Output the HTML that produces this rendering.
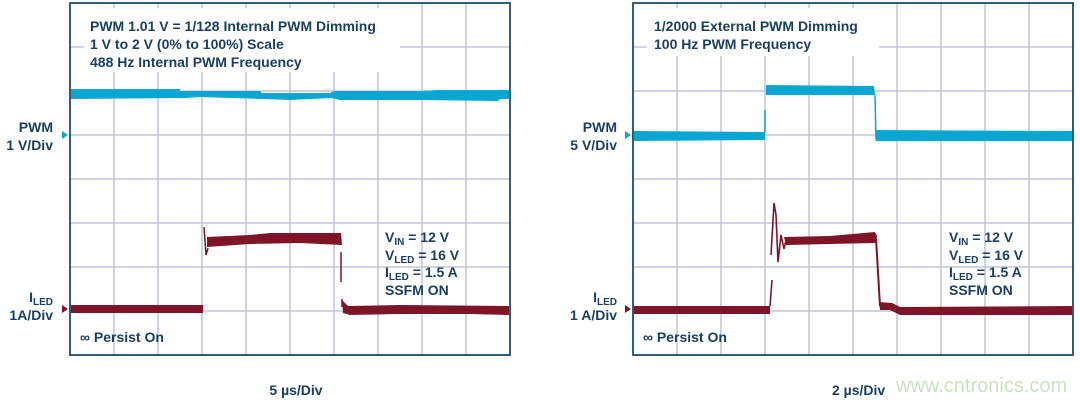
<!DOCTYPE html>
<html><head><meta charset="utf-8"><style>
html,body{margin:0;padding:0;background:#fff}
svg{display:block}
text{font-family:"Liberation Sans",sans-serif;font-weight:bold;fill:#1b3f63}
</style></head><body>
<svg width="1080" height="400" viewBox="0 0 1080 400" xmlns="http://www.w3.org/2000/svg">
<defs>
<g id="grid">
 <g stroke="#c3c6d8" stroke-width="1.6">
  <line x1="44" y1="0" x2="44" y2="352"/><line x1="88" y1="0" x2="88" y2="352"/><line x1="132" y1="0" x2="132" y2="352"/><line x1="176" y1="0" x2="176" y2="352"/><line x1="220" y1="0" x2="220" y2="352"/><line x1="264" y1="0" x2="264" y2="352"/><line x1="308" y1="0" x2="308" y2="352"/><line x1="352" y1="0" x2="352" y2="352"/><line x1="396" y1="0" x2="396" y2="352"/>
  <line x1="0" y1="44" x2="440" y2="44"/><line x1="0" y1="88" x2="440" y2="88"/><line x1="0" y1="132" x2="440" y2="132"/><line x1="0" y1="176" x2="440" y2="176"/><line x1="0" y1="220" x2="440" y2="220"/><line x1="0" y1="264" x2="440" y2="264"/><line x1="0" y1="308" x2="440" y2="308"/>
 </g>
</g>
</defs>

<!-- LEFT SCOPE -->
<g transform="translate(70,3)"><use href="#grid"/></g>
<rect x="84" y="8" width="316" height="64" fill="#fff"/>
<rect x="70" y="3" width="440" height="352" fill="none" stroke="#1e4a6e" stroke-width="1.8"/>
<text x="90" y="31" font-size="14">PWM 1.01 V = 1/128 Internal PWM Dimming</text>
<text x="90" y="49" font-size="14">1 V to 2 V (0% to 100%) Scale</text>
<text x="90" y="67" font-size="14">488 Hz Internal PWM Frequency</text>
<!-- PWM trace -->
<path d="M71 89 L180 89 L180 91 L260 91 L262 93 L330 93 L334 91 L420 91 L440 90 L509 90 L509 99 L500 99 L498 101 L420 100 L340 100 L332 98 L310 99 L290 100 L262 99 L200 97 L185 98 L71 99 Z" fill="#0aa6d2"/>
<!-- ILED trace -->
<path d="M71 305 L203 305 L203 313 L71 313 Z" fill="#7e1428"/>
<path d="M204 227 L206 255 L208 248" stroke="#7e1428" stroke-width="1.5" fill="none"/>
<path d="M207 237 L250 235 L270 233 L341 233 L342 245 L300 243 L250 244 L207 247 Z" fill="#7e1428"/>
<path d="M341 252 L341 282 M342 299 L342 307" stroke="#7e1428" stroke-width="1.5"/>
<path d="M342 300 L348 306 L400 305 L509 306 L509 315 L470 314 L400 314 L350 315 L343 313 Z" fill="#7e1428"/>
<!-- markers -->
<path d="M62 131 L68 135 L62 139 Z" fill="#0aa6d2"/>
<path d="M62 305 L68 309 L62 313 Z" fill="#7e1428"/>
<text x="53" y="132" font-size="14" text-anchor="end">PWM</text>
<text x="53" y="150" font-size="14" text-anchor="end">1 V/Div</text>
<text x="53" y="302" font-size="14" text-anchor="end">I<tspan font-size="10" dy="3">LED</tspan></text>
<text x="53" y="320" font-size="14" text-anchor="end">1A/Div</text>
<text x="385" y="242" font-size="14">V<tspan font-size="10" dy="3">IN</tspan><tspan dy="-3"> = 12 V</tspan></text>
<text x="385" y="260" font-size="14">V<tspan font-size="10" dy="3">LED</tspan><tspan dy="-3"> = 16 V</tspan></text>
<text x="385" y="277" font-size="14">I<tspan font-size="10" dy="3">LED</tspan><tspan dy="-3"> = 1.5 A</tspan></text>
<text x="385" y="295" font-size="14">SSFM ON</text>
<text x="80" y="342" font-size="14">∞ Persist On</text>
<text x="296" y="395" font-size="14" text-anchor="middle">5 µs/Div</text>

<!-- RIGHT SCOPE -->
<g transform="translate(633,3)"><use href="#grid"/></g>
<rect x="647" y="8" width="232" height="48" fill="#fff"/>
<rect x="633" y="3" width="440" height="352" fill="none" stroke="#1e4a6e" stroke-width="1.8"/>
<text x="654" y="31" font-size="14">1/2000 External PWM Dimming</text>
<text x="654" y="49" font-size="14">100 Hz PWM Frequency</text>
<path d="M634 131 L765 132 L765 140 L634 141 Z" fill="#0aa6d2"/>
<path d="M765 110 L765 132" stroke="#0aa6d2" stroke-width="1.5"/>
<path d="M766 85 L874 86 L875 95 L766 95 Z" fill="#0aa6d2"/>
<path d="M875 95 L876 140" stroke="#0aa6d2" stroke-width="1.5"/>
<path d="M876 130 L1072 131 L1072 141 L876 141 Z" fill="#0aa6d2"/>
<path d="M634 306 L770 306 L770 314 L634 314 Z" fill="#7e1428"/>
<path d="M770 306 L772 280 M771 255 L774 203 L776 215 L778 262 L781 235 L784 249 L786 240" stroke="#7e1428" stroke-width="1.6" fill="none"/>
<path d="M784 237 L830 236 L875 232 L877 236 L876 243 L830 244 L786 245 Z" fill="#7e1428"/>
<path d="M876 238 L880 306" stroke="#7e1428" stroke-width="2"/>
<path d="M879 302 L892 303 L900 307 L1072 306 L1072 315 L900 315 L890 310 L880 310 Z" fill="#7e1428"/>
<path d="M625 131 L631 135 L625 139 Z" fill="#0aa6d2"/>
<path d="M625 305 L631 309 L625 313 Z" fill="#7e1428"/>
<text x="617" y="132" font-size="14" text-anchor="end">PWM</text>
<text x="617" y="150" font-size="14" text-anchor="end">5 V/Div</text>
<text x="617" y="302" font-size="14" text-anchor="end">I<tspan font-size="10" dy="3">LED</tspan></text>
<text x="617" y="320" font-size="14" text-anchor="end">1 A/Div</text>
<text x="949" y="242" font-size="14">V<tspan font-size="10" dy="3">IN</tspan><tspan dy="-3"> = 12 V</tspan></text>
<text x="949" y="260" font-size="14">V<tspan font-size="10" dy="3">LED</tspan><tspan dy="-3"> = 16 V</tspan></text>
<text x="949" y="277" font-size="14">I<tspan font-size="10" dy="3">LED</tspan><tspan dy="-3"> = 1.5 A</tspan></text>
<text x="949" y="295" font-size="14">SSFM ON</text>
<text x="643" y="342" font-size="14">∞ Persist On</text>
<text x="832" y="395" font-size="14">2 µs/Div</text>
<text x="896" y="392" font-size="20" style="font-weight:normal;fill:#c9e2c2">www.cntronics.com</text>
</svg>
</body></html>
